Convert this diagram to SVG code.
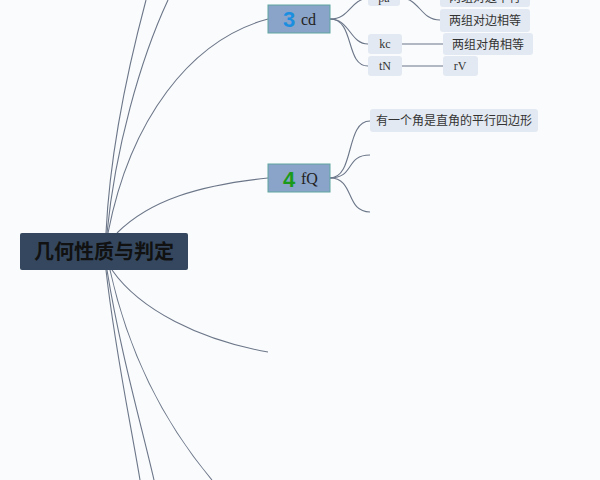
<svg xmlns="http://www.w3.org/2000/svg" width="600" height="480" viewBox="0 0 600 480">
<style>
.c{fill:none;stroke:#6b7689;stroke-width:1.1}
.t{fill:#e3e9f2;}
.zh{font-family:"Noto Sans CJK SC","Liberation Sans",sans-serif;font-size:12px;fill:#333}
.en{font-family:"Liberation Serif",serif;font-size:12px;fill:#333}
.m{fill:#8aa3c8;stroke:#5fa6a0;stroke-width:1}
</style>
<rect width="600" height="480" fill="#fafbfc"/>
<g id="connectors">
<path class="c" d="M106,233 C110,150 130,60 146,0"/>
<path class="c" d="M107,233 C115,150 140,60 168,0"/>
<path class="c" d="M108,233 C130,120 190,40 268,19"/>
<path class="c" d="M117,233 C150,200 200,185 268,178"/>
<path class="c" d="M112,270 C140,310 200,340 268,352"/>
<path class="c" d="M106,270 C115,350 130,420 140,480"/>
<path class="c" d="M107,270 C120,350 140,420 154,480"/>
<path class="c" d="M110,270 C130,360 170,430 212,480"/>
<path class="c" d="M330,19 C350,19 350,0 368,-2"/>
<path class="c" d="M330,19 C350,19 350,44 368,44"/>
<path class="c" d="M330,19 C355,19 345,66 368,66"/>
<path class="c" d="M400,-2 C420,-2 420,20 440,20"/>
<path class="c" d="M402,44 L443,44"/>
<path class="c" d="M402,66 L443,66"/>
<path class="c" d="M330,178 C355,178 345,121 370,121"/>
<path class="c" d="M330,178 C355,178 345,155 370,155"/>
<path class="c" d="M330,178 C355,178 345,212 370,212"/>
</g>
<g id="root"><rect x="20" y="233" width="168" height="37" rx="2" fill="#34475e"/>
<text x="104" y="259" text-anchor="middle" font-family="Noto Sans CJK SC,sans-serif" font-size="20" font-weight="bold" fill="#111">几何性质与判定</text></g>
<g id="n3"><rect class="m" x="268" y="5" width="62" height="28"/>
<text x="289" y="27" text-anchor="middle" font-family="Liberation Sans,sans-serif" font-size="22" font-weight="bold" fill="#1a8fe0">3</text>
<text x="301" y="25" font-family="Liberation Serif,serif" font-size="16" fill="#222">cd</text></g>
<g id="n4"><rect class="m" x="268" y="164" width="62" height="28"/>
<text x="289" y="187" text-anchor="middle" font-family="Liberation Sans,sans-serif" font-size="22" font-weight="bold" fill="#1a9a1a">4</text>
<text x="301" y="184" font-family="Liberation Serif,serif" font-size="16" fill="#222">fQ</text></g>
<g id="pa"><rect class="t" x="368" y="-12" width="32" height="18" rx="3"/><text class="en" x="384" y="2" text-anchor="middle">pa</text></g>
<g id="kc"><rect class="t" x="368" y="34" width="34" height="20" rx="3"/><text class="en" x="385" y="48" text-anchor="middle">kc</text></g>
<g id="tN"><rect class="t" x="368" y="56" width="34" height="20" rx="3"/><text class="en" x="385" y="70" text-anchor="middle">tN</text></g>
<g id="a1"><rect class="t" x="440" y="-14" width="90" height="21" rx="3"/><text class="zh" x="485" y="2" text-anchor="middle">两组对边平行</text></g>
<g id="a2"><rect class="t" x="440" y="9" width="90" height="23" rx="3"/><text class="zh" x="485" y="25" text-anchor="middle">两组对边相等</text></g>
<g id="a3"><rect class="t" x="443" y="33" width="90" height="22" rx="3"/><text class="zh" x="488" y="49" text-anchor="middle">两组对角相等</text></g>
<g id="rV"><rect class="t" x="443" y="56" width="35" height="20" rx="3"/><text class="en" x="460" y="70" text-anchor="middle">rV</text></g>
<g id="b1"><rect class="t" x="370" y="109" width="168" height="23" rx="3"/><text class="zh" x="454" y="125" text-anchor="middle">有一个角是直角的平行四边形</text></g>
</svg>
